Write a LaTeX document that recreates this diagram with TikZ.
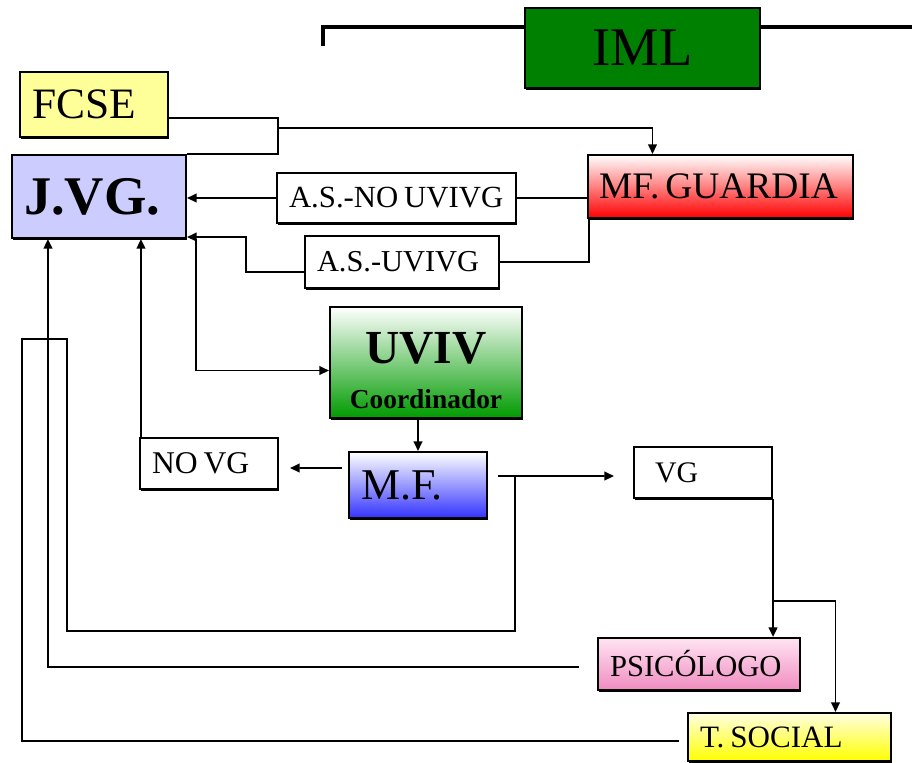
\documentclass[tikz,border=0pt]{standalone}
\usepackage{fontspec}
\setmainfont{Liberation Serif}
\usetikzlibrary{arrows.meta,shadows}

\definecolor{imlgreen}{RGB}{0,128,0}
\definecolor{fcseyellow}{RGB}{255,255,153}
\definecolor{jvgblue}{RGB}{204,204,255}
\definecolor{uvivgreen}{RGB}{0,155,0}
\definecolor{mfblue}{RGB}{51,51,255}
\definecolor{psitop}{RGB}{255,228,242}
\definecolor{psibot}{RGB}{240,140,192}
\definecolor{tsoctop}{RGB}{255,255,225}

\tikzset{
  box/.style={draw, line width=1.2pt, inner xsep=0.24cm, inner ysep=0pt, align=left,
    drop shadow={shadow xshift=0.5pt, shadow yshift=-1.3pt, fill=black, opacity=1}},
  link/.style={line width=1pt},
  thickline/.style={line width=2.4pt},
}

\begin{document}
\begin{tikzpicture}[x=0.02cm, y=-0.02cm, >={Triangle[length=5.5pt,width=5pt]}]
    \useasboundingbox (0,0) rectangle (912,762);
    % boxes
    \node[box, fill=imlgreen, align=center, text width=4.22cm, minimum height=1.6cm] (iml) at (642.5,48) {\fontsize{31}{34}\selectfont IML};
    \node[box, fill=fcseyellow, text width=2.48cm, minimum height=1.3cm] (fcse) at (94,104.5) {\fontsize{24.7}{26}\selectfont FCSE};
    \node[box, fill=jvgblue, text width=3.0cm, minimum height=1.66cm] (jvg) at (99,196.5) {\fontsize{31}{33}\selectfont\bfseries J.VG.};
    \node[box, top color=white, bottom color=red, text width=4.86cm, inner xsep=0.22cm, minimum height=1.26cm] (mfg) at (720.5,186.5) {\fontsize{21.3}{23}\selectfont\mbox{MF. GUARDIA}};
    \node[box, fill=white, text width=4.3cm, minimum height=1.0cm] (asno) at (396.5,198) {\fontsize{17.5}{19}\selectfont A.S.-NO UVIVG};
    \node[box, fill=white, text width=3.4cm, minimum height=1.04cm] (asu) at (402,262) {\fontsize{17.3}{19}\selectfont A.S.-UVIVG};
    \node[box, top color=white, bottom color=uvivgreen, align=center, text width=3.36cm, minimum height=2.22cm] (uviv) at (426,362.5)
        {\rule{0pt}{27pt}{\fontsize{27}{30}\selectfont\bfseries UVIV}\\[14pt]{\fontsize{15.6}{17}\selectfont\bfseries Coordinador}};
    \node[box, fill=white, text width=2.28cm, minimum height=1.02cm] (novg) at (209,463.5) {\fontsize{18}{20}\selectfont NO VG};
    \node[box, top color=white, bottom color=mfblue, text width=2.28cm, minimum height=1.32cm] (mf) at (418,485) {\fontsize{25}{27}\selectfont M.F.};
    \node[box, fill=white, text width=2.28cm, minimum height=1.02cm] (vg) at (703,472.5) {\fontsize{17}{19}\selectfont\hspace{0.18cm}VG};
    \node[box, top color=psitop, bottom color=psibot, text width=3.56cm, minimum height=1.04cm] (psi) at (699,664) {\fontsize{17.4}{19}\selectfont PSICÓLOGO};
    \node[box, top color=tsoctop, bottom color=yellow, text width=3.58cm, minimum height=0.96cm] (tsoc) at (789.5,737) {\fontsize{17.7}{19}\selectfont T. SOCIAL};

    % iml bar
    \coordinate (imlleft) at (323,46);
    \draw[thickline] (imlleft) |- ([shift={(0,20)}]iml.north west);
    \draw[thickline] ([shift={(0,20)}]iml.north east) -- ++(160,0);

    % fcse
    \coordinate (fcsejoin) at (278,118);
    \draw[link] (fcse.east |- fcsejoin) -- (fcsejoin) |- (jvg.north east);
    \draw[link,->] ([shift={(0,10)}]fcsejoin) -| ([shift={(-68,0)}]mfg.north);

    % guardia to j.vg.
    \draw[link] (asno.east) -- (asno.east -| mfg.west);
    \draw[link,->] (asno.west) -- (asno.west -| jvg.east);
    \coordinate (asubend) at (246,237);
    \draw[link] ([shift={(2,0)}]mfg.south west) |- (asu.east);
    \draw[link,->] ([shift={(0,10)}]asu.west) -| (asubend) -- (asubend -| jvg.east);

    % j.vg. to uviv to m.f.
    \draw[link,->] ([shift={(9,0)}]jvg.south east) |- ([shift={(0,8)}]uviv.west);
    \draw[link,->] (mf.north |- uviv.south) -- (mf.north);
    \draw[link,->, shorten <=0.12cm, shorten >=0.22cm] ([shift={(0,-17)}]mf.west) -- ([shift={(0,4.5)}]novg.east);
    \draw[link,->] ([shift={(2,0)}]novg.north west) -- ([shift={(2,0)}]novg.north west |- jvg.south);
    \draw[link,->, shorten <=0.2cm, shorten >=0.38cm] ([shift={(0,-9)}]mf.east) -- ([shift={(0,3.5)}]vg.west);

    % return lines
    \coordinate (mfret) at (515,476);
    \draw[link, shorten >=0.16cm] (mfret) |- (67,631) |- (22,339) |- ([shift={(0,4)}]tsoc.west);
    \draw[link,->, shorten <=0.18cm] ([shift={(-9,3)}]psi.west) -| ([shift={(37,0)}]jvg.south west);

    % vg to psicologo and t. social
    \coordinate (vgsplit) at (772,601);
    \draw[link,->] (vg.south east) -- (vg.south east |- psi.north);
    \draw[link,->] (vgsplit) -| ([shift={(46,0)}]tsoc.north);
\end{tikzpicture}
\end{document}
